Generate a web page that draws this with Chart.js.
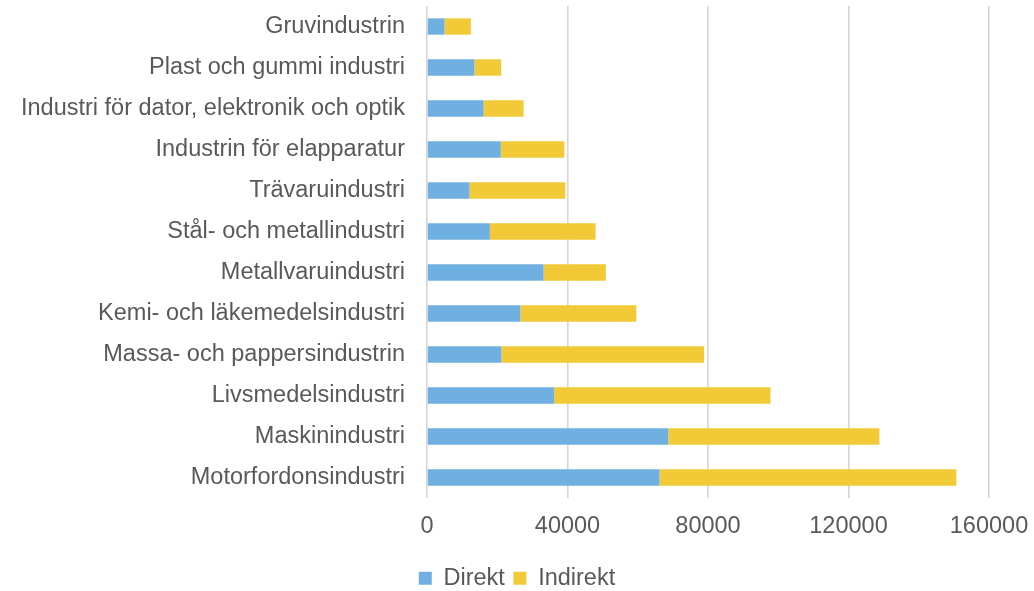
<!DOCTYPE html>
<html lang="sv">
<head>
<meta charset="utf-8">
<script src="https://cdn.jsdelivr.net/npm/chart.js@4"></script>
<style>
  html, body { margin: 0; padding: 0; background: #fff; }
  #wrap { width: 1034px; height: 591px; }
</style>
</head>
<body>
<div id="wrap"><canvas id="chart"></canvas></div>
<script>
const branscher = [
    "Gruvindustrin",
    "Plast och gummi industri",
    "Industri för dator, elektronik och optik",
    "Industrin för elapparatur",
    "Trävaruindustri",
    "Stål- och metallindustri",
    "Metallvaruindustri",
    "Kemi- och läkemedelsindustri",
    "Massa- och pappersindustrin",
    "Livsmedelsindustri",
    "Maskinindustri",
    "Motorfordonsindustri"
];
const direkt   = [5000, 13500, 16100, 21000, 12100, 17900, 33200, 26600, 21200, 36200, 68700, 66200];
const indirekt = [7500,  7600, 11400, 18100, 27300, 30100, 17700, 33000, 57700, 61600, 60100, 84500];
const xTicks = [0, 40000, 80000, 120000, 160000];

const textColor = "#595959";
const family = "Arial, 'Liberation Sans', sans-serif";
const font = { family, size: 23.5 };

new Chart(document.getElementById("chart"), {
    type: "bar",
    data: {
        labels: branscher,
        datasets: [
            { label: "Direkt", data: direkt, backgroundColor: "#70b0e0" },
            { label: "Indirekt", data: indirekt, backgroundColor: "#f2ca37" }
        ]
    },
    options: {
        indexAxis: "y",
        responsive: true,
        maintainAspectRatio: false,
        animation: false,
        datasets: { bar: { categoryPercentage: 1, barPercentage: 0.4 } },
        layout: { padding: { top: 6, right: 0, bottom: -9, left: 0 } },
        scales: {
            x: {
                stacked: true,
                min: 0,
                max: 160000,
                afterBuildTicks: s => { s.ticks = xTicks.map(v => ({ value: v })); },
                // fixed axis band height and room for the last tick label on the right
                afterFit: s => { s.height = 60; s.paddingRight = 45; },
                ticks: { color: textColor, font, padding: 14, maxRotation: 0, callback: v => String(v) },
                grid: { color: "#d6d6d6", lineWidth: 1.6, drawTicks: false },
                border: { display: false }
            },
            y: {
                stacked: true,
                // fixed label column, no extra room above/below the first and last bar
                afterFit: s => { s.width = 427; s.paddingTop = 0; s.paddingBottom = 0; },
                ticks: { color: textColor, font, padding: 14 },
                grid: { display: false },
                border: { display: false }
            }
        },
        plugins: {
            legend: {
                position: "bottom",
                labels: { color: textColor, font, boxWidth: 13, boxHeight: 13, padding: 8.5 }
            },
            tooltip: { enabled: false }
        }
    }
});
</script>
</body>
</html>
